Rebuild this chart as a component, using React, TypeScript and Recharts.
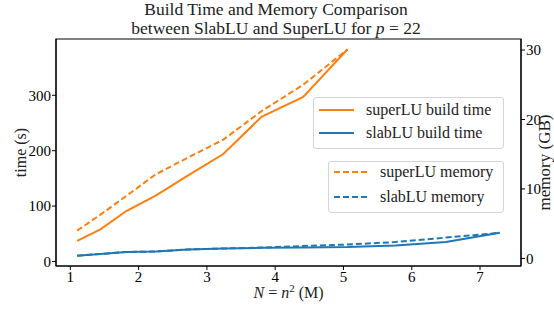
import { Label, Line, LineChart, ReferenceArea, XAxis, YAxis } from "recharts"

// N = n^2 in millions, one entry per grid size
const N_MILLIONS = [1.1, 1.44, 1.82, 2.25, 2.72, 3.24, 3.8, 4.41, 5.06, 5.76, 6.5, 7.29]
const SUPERLU_TIME = [37, 58, 91, 119, 155, 194, 261, 297, 383]
const SUPERLU_MEM = [4.0, 6.3, 9.0, 12.1, 14.5, 17.1, 21.2, 25.0, 30.1]
const SLABLU_TIME = [10.4, 13.5, 17, 18, 21.5, 23.4, 24.6, 25, 26, 29, 35, 51.7]
const SLABLU_MEM = [0.4, 0.64, 0.93, 1.0, 1.29, 1.43, 1.56, 1.79, 2.0, 2.36, 3.0, 3.69]

const X_TICKS = [1, 2, 3, 4, 5, 6, 7]
const TIME_TICKS = [0, 100, 200, 300]
const MEM_TICKS = [0, 10, 20, 30]

const X_DOMAIN: [number, number] = [0.79, 7.6]
const TIME_DOMAIN: [number, number] = [-8.2, 401.6]
const MEM_DOMAIN: [number, number] = [-1.09, 31.59]

const ORANGE = "#ff7f0e"
const BLUE = "#1f77b4"
const FONT = "'Liberation Serif', 'DejaVu Serif', serif"
const DASH = "6 3"

const rows = N_MILLIONS.map((n, i) => ({
  n,
  superTime: SUPERLU_TIME[i],
  superMem: SUPERLU_MEM[i],
  slabTime: SLABLU_TIME[i],
  slabMem: SLABLU_MEM[i],
}))

const TIME_LEGEND = [
  { label: "superLU build time", color: ORANGE, dashed: false },
  { label: "slabLU build time", color: BLUE, dashed: false },
]
const MEM_LEGEND = [
  { label: "superLU memory", color: ORANGE, dashed: true },
  { label: "slabLU memory", color: BLUE, dashed: true },
]

const tickStyle = { fill: "#000", fontSize: 15, fontFamily: FONT }

function LegendBox({ items, left, top, width, lineLen, rowGap, firstY }: any) {
  return (
    <div
      style={{
        position: "absolute",
        left,
        top,
        width,
        height: 52,
        border: "1px solid #d4d4d4",
        borderRadius: 3,
        background: "rgba(255,255,255,0.8)",
        boxSizing: "border-box",
      }}
    >
      <svg width={width} height={52} style={{ position: "absolute", left: -1, top: -1 }}>
        {items.map((it: any, i: number) => {
          const y = firstY + i * rowGap
          return (
            <g key={it.label}>
              <line
                x1={6}
                x2={6 + lineLen}
                y1={y}
                y2={y}
                stroke={it.color}
                strokeWidth={2}
                strokeDasharray={it.dashed ? DASH : undefined}
              />
              <text x={lineLen + 18} y={y + 5} fontSize={16} fontFamily={FONT} fill="#222">
                {it.label}
              </text>
            </g>
          )
        })}
      </svg>
    </div>
  )
}

function TimeLabel({ viewBox }: any) {
  const cy = viewBox.y + viewBox.height / 2
  return (
    <text
      x={20}
      y={cy}
      transform={`rotate(-90, 20, ${cy})`}
      textAnchor="middle"
      dominantBaseline="central"
      fontSize={16}
      fontFamily={FONT}
      fill="#222"
    >
      time (s)
    </text>
  )
}

function MemLabel({ viewBox }: any) {
  const cy = viewBox.y + viewBox.height / 2 + 10
  const x = 544
  return (
    <text
      x={x}
      y={cy}
      transform={`rotate(-90, ${x}, ${cy})`}
      textAnchor="middle"
      dominantBaseline="central"
      fontSize={17}
      fontFamily={FONT}
      fill="#222"
    >
      memory (GB)
    </text>
  )
}

function NLabel({ viewBox }: any) {
  const cx = viewBox.x + viewBox.width / 2
  return (
    <text x={cx} y={298} textAnchor="middle" fontSize={16} fontFamily={FONT} fill="#222">
      <tspan fontStyle="italic">N</tspan>
      <tspan> = </tspan>
      <tspan fontStyle="italic">n</tspan>
      <tspan fontSize={11} dy={-6}>2</tspan>
      <tspan dy={6}> (M)</tspan>
    </text>
  )
}

export default function App() {
  return (
    <div
      style={{
        position: "absolute",
        left: 0,
        top: 0,
        width: 554,
        height: 309,
        background: "#fff",
        overflow: "hidden",
      }}
    >
      <svg width={554} height={40} style={{ position: "absolute", left: 0, top: 0 }}>
        <text x={276} y={15} textAnchor="middle" fontSize={17.5} fontFamily={FONT} fill="#222">
          Build Time and Memory Comparison
        </text>
        <text x={276} y={33.5} textAnchor="middle" fontSize={17.5} fontFamily={FONT} fill="#222">
          between SlabLU and SuperLU for <tspan fontStyle="italic">p</tspan> = 22
        </text>
      </svg>
      <LineChart
        width={554}
        height={309}
        data={rows}
        margin={{ top: 39, right: 0, bottom: 0, left: 0 }}
        style={{ position: "absolute", left: 0, top: 0 }}
      >
        <XAxis
          dataKey="n"
          type="number"
          domain={X_DOMAIN}
          ticks={X_TICKS}
          allowDataOverflow
          height={43}
          tickSize={4}
          tickMargin={1}
          tick={tickStyle}
          stroke="#000"
        >
          <Label content={<NLabel />} />
        </XAxis>
        <YAxis
          yAxisId="time"
          orientation="left"
          domain={TIME_DOMAIN}
          ticks={TIME_TICKS}
          allowDataOverflow
          width={56}
          tickSize={4}
          tickMargin={1}
          tick={tickStyle}
          stroke="#000"
        >
          <Label content={<TimeLabel />} />
        </YAxis>
        <YAxis
          yAxisId="mem"
          orientation="right"
          domain={MEM_DOMAIN}
          ticks={MEM_TICKS}
          allowDataOverflow
          width={33}
          tickSize={4}
          tickMargin={1}
          tick={tickStyle}
          stroke="#000"
        >
          <Label content={<MemLabel />} />
        </YAxis>
        <Line
          yAxisId="time"
          dataKey="slabTime"
          type="linear"
          stroke={BLUE}
          strokeWidth={2}
          dot={false}
          isAnimationActive={false}
        />
        <Line
          yAxisId="mem"
          dataKey="slabMem"
          type="linear"
          stroke={BLUE}
          strokeWidth={2}
          strokeDasharray={DASH}
          dot={false}
          isAnimationActive={false}
        />
        <Line
          yAxisId="time"
          dataKey="superTime"
          type="linear"
          stroke={ORANGE}
          strokeWidth={2}
          dot={false}
          isAnimationActive={false}
        />
        <Line
          yAxisId="mem"
          dataKey="superMem"
          type="linear"
          stroke={ORANGE}
          strokeWidth={2}
          strokeDasharray={DASH}
          dot={false}
          isAnimationActive={false}
        />
        <ReferenceArea
          yAxisId="time"
          x1={X_DOMAIN[0]}
          x2={X_DOMAIN[1]}
          y1={TIME_DOMAIN[0]}
          y2={TIME_DOMAIN[1]}
          fill="none"
          stroke="#000"
          strokeWidth={1.2}
          ifOverflow="visible"
        />
      </LineChart>
      <LegendBox items={TIME_LEGEND} left={313} top={97} width={191} lineLen={35} rowGap={23} firstY={13} />
      <LegendBox items={MEM_LEGEND} left={328} top={161} width={176} lineLen={34} rowGap={25} firstY={11} />
    </div>
  )
}
